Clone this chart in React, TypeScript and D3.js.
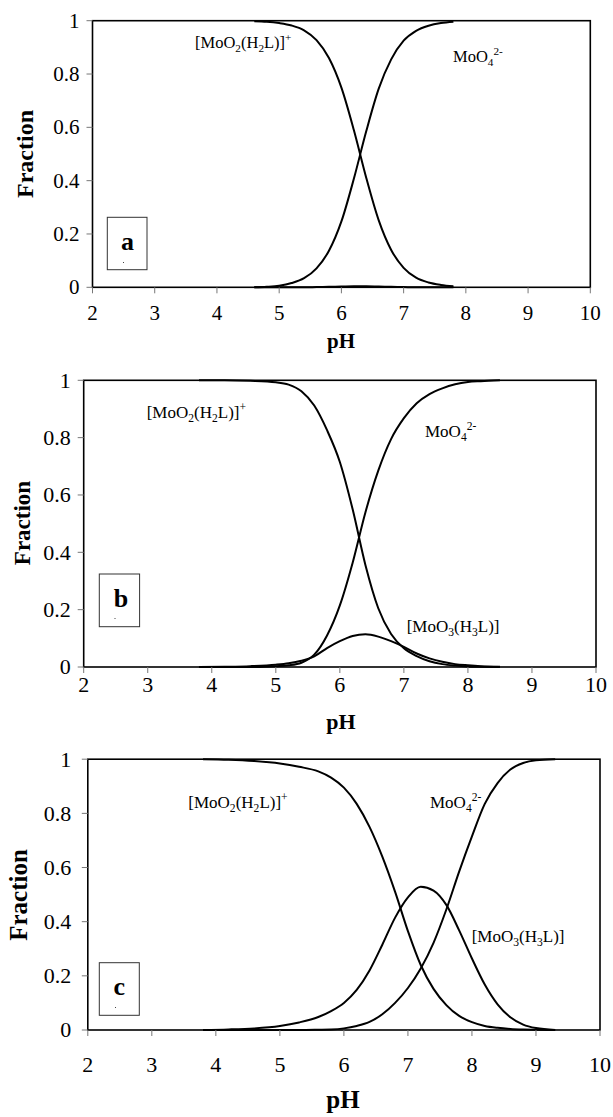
import React from 'react';
import * as d3 from 'd3';

const X_TICKS = [2, 3, 4, 5, 6, 7, 8, 9, 10];
const Y_TICKS = [0, 0.2, 0.4, 0.6, 0.8, 1];

// Panel a
const PH_A = [4.6, 4.8, 5.0, 5.2, 5.4, 5.6, 5.8, 6.0, 6.2, 6.4, 6.6, 6.8, 7.0, 7.2, 7.4, 7.6, 7.8];
const H2L_A = [0.998, 0.996, 0.991, 0.982, 0.964, 0.927, 0.86, 0.749, 0.59, 0.41, 0.251, 0.14, 0.073, 0.036, 0.018, 0.009, 0.004];
const MOO4_A = [0.0, 0.002, 0.006, 0.016, 0.034, 0.071, 0.137, 0.247, 0.407, 0.586, 0.745, 0.855, 0.925, 0.962, 0.981, 0.991, 0.996];
const MOO3_A = [0, 0, 0, 0, 0, 0.001, 0.002, 0.003, 0.004, 0.004, 0.003, 0.002, 0.001, 0, 0, 0, 0];

// Panel b
const PH_B = [3.8, 4.2, 4.6, 5.0, 5.2, 5.4, 5.6, 5.8, 6.0, 6.2, 6.4, 6.6, 6.8, 7.0, 7.2, 7.4, 7.6, 7.8, 8.0, 8.2, 8.5];
const H2L_B = [1.0, 1.0, 0.998, 0.993, 0.985, 0.962, 0.912, 0.826, 0.715, 0.55, 0.355, 0.205, 0.115, 0.065, 0.038, 0.02, 0.01, 0.005, 0.002, 0.001, 0.0];
const MOO3_B = [0.0, 0.001, 0.003, 0.008, 0.013, 0.022, 0.037, 0.066, 0.09, 0.108, 0.114, 0.106, 0.09, 0.07, 0.047, 0.03, 0.018, 0.01, 0.006, 0.003, 0.001];
const MOO4_B = [0.0, 0.0, 0.0, 0.003, 0.006, 0.015, 0.043, 0.11, 0.215, 0.364, 0.54, 0.685, 0.795, 0.868, 0.92, 0.952, 0.972, 0.986, 0.994, 0.997, 1.0];

// Panel c
const PH_C = [3.8, 4.2, 4.6, 5.0, 5.3, 5.6, 5.8, 6.0, 6.2, 6.4, 6.6, 6.8, 7.0, 7.2, 7.4, 7.6, 7.8, 8.0, 8.2, 8.4, 8.6, 8.8, 9.0, 9.3];
const H2L_C = [1.0, 0.998, 0.993, 0.984, 0.972, 0.955, 0.932, 0.895, 0.835, 0.75, 0.64, 0.51, 0.365, 0.24, 0.152, 0.092, 0.052, 0.029, 0.015, 0.008, 0.004, 0.002, 0.001, 0.0];
const MOO3_C = [0.0, 0.002, 0.006, 0.015, 0.028, 0.048, 0.07, 0.1, 0.148, 0.22, 0.315, 0.415, 0.49, 0.529, 0.515, 0.462, 0.368, 0.264, 0.168, 0.095, 0.047, 0.02, 0.007, 0.0];
const MOO4_C = [0.0, 0.0, 0.0, 0.0, 0.0, 0.001, 0.002, 0.006, 0.015, 0.03, 0.058, 0.1, 0.155, 0.227, 0.322, 0.445, 0.585, 0.715, 0.835, 0.912, 0.962, 0.986, 0.996, 1.0];

const SERIF = "'Liberation Serif', 'Times New Roman', Times, serif";

type Seg = { t: string; k?: 'sub' | 'sup' };

const LBL_H2L: Seg[] = [
  { t: '[MoO' }, { t: '2', k: 'sub' }, { t: '(H' }, { t: '2', k: 'sub' }, { t: 'L)]' }, { t: '+', k: 'sup' },
];
const LBL_MOO4: Seg[] = [{ t: 'MoO' }, { t: '4', k: 'sub' }, { t: '2-', k: 'sup' }];
const LBL_MOO3: Seg[] = [
  { t: '[MoO' }, { t: '3', k: 'sub' }, { t: '(H' }, { t: '3', k: 'sub' }, { t: 'L)]' },
];

function ChemLabel({ x, y, segs, size }: { x: number; y: number; segs: Seg[]; size: number }) {
  let cur = 0;
  return (
    <text x={x} y={y} fontSize={size} fontFamily={SERIF} fill="#000">
      {segs.map((s, i) => {
        const target = s.k === 'sub' ? size * 0.25 : s.k === 'sup' ? -size * 0.42 : 0;
        const dy = target - cur;
        cur = target;
        return (
          <tspan key={i} dy={dy} fontSize={s.k ? size * 0.68 : size}>
            {s.t}
          </tspan>
        );
      })}
    </text>
  );
}

type PanelProps = {
  left: number; right: number; top: number; bottom: number;
  ph: number[]; series: number[][];
  tickFont: number; xLabelBase: number; yLabelGap: number;
  fracX: number; fracY: number; fracFont: number;
  phX: number; phY: number; phFont: number;
  box: [number, number, number, number]; letter: string; letterX: number; letterY: number;
  dot: [number, number];
  labels: { x: number; y: number; segs: Seg[]; size: number }[];
};

function Panel(p: PanelProps) {
  const x = d3.scaleLinear().domain([2, 10]).range([p.left, p.right]);
  const y = d3.scaleLinear().domain([0, 1]).range([p.bottom, p.top]);
  const line = d3
    .line<[number, number]>()
    .x((d) => x(d[0]))
    .y((d) => y(d[1]))
    .curve(d3.curveMonotoneX);
  const fmt = d3.format('~g');
  return (
    <g fontFamily={SERIF}>
      {p.series.map((s, i) => (
        <path
          key={i}
          d={line(p.ph.map((v, j) => [v, s[j]] as [number, number])) || ''}
          fill="none"
          stroke="#000"
          strokeWidth={2}
        />
      ))}
      <rect
        x={p.left}
        y={p.top}
        width={p.right - p.left}
        height={p.bottom - p.top}
        fill="none"
        stroke="#000"
        strokeWidth={1.6}
      />
      {X_TICKS.map((t) => (
        <g key={'x' + t}>
          <line x1={x(t)} x2={x(t)} y1={p.bottom} y2={p.bottom + 6} stroke="#777" strokeWidth={1} />
          <text x={x(t)} y={p.xLabelBase} textAnchor="middle" fontSize={p.tickFont} fontFamily={SERIF}>
            {t}
          </text>
        </g>
      ))}
      {Y_TICKS.map((t) => (
        <g key={'y' + t}>
          <line x1={p.left - 6} x2={p.left} y1={y(t)} y2={y(t)} stroke="#777" strokeWidth={1} />
          <text
            x={p.left - p.yLabelGap}
            y={y(t) + p.tickFont * 0.34}
            textAnchor="end"
            fontSize={p.tickFont}
            fontFamily={SERIF}
          >
            {fmt(t)}
          </text>
        </g>
      ))}
      <text
        transform={`translate(${p.fracX},${p.fracY}) rotate(-90)`}
        textAnchor="middle"
        fontSize={p.fracFont}
        fontWeight="bold"
        fontFamily={SERIF}
      >
        Fraction
      </text>
      <text x={p.phX} y={p.phY} textAnchor="middle" fontSize={p.phFont} fontWeight="bold" fontFamily={SERIF}>
        pH
      </text>
      <rect
        x={p.box[0]}
        y={p.box[1]}
        width={p.box[2] - p.box[0]}
        height={p.box[3] - p.box[1]}
        fill="#fff"
        stroke="#333"
        strokeWidth={1}
      />
      <text x={p.letterX} y={p.letterY} textAnchor="middle" fontSize={26} fontWeight="bold" fontFamily={SERIF}>
        {p.letter}
      </text>
      <rect x={p.dot[0]} y={p.dot[1]} width={1} height={1} fill="#444" />
      {p.labels.map((l, i) => (
        <ChemLabel key={i} {...l} />
      ))}
    </g>
  );
}

export default function App() {
  return (
    <svg
      width={613}
      height={1117}
      viewBox="0 0 613 1117"
      style={{ position: 'absolute', left: 0, top: 0, background: '#fff' }}
      fontFamily={SERIF}
    >
      <rect x={0} y={0} width={613} height={1117} fill="#fff" />
      <Panel
        left={92.5} right={590.3} top={20.7} bottom={287.3}
        ph={PH_A} series={[H2L_A, MOO4_A, MOO3_A]}
        tickFont={21} xLabelBase={320} yLabelGap={13}
        fracX={33} fracY={154} fracFont={24}
        phX={341} phY={348} phFont={21}
        box={[107.3, 217.3, 147, 269.7]} letter="a" letterX={127.5} letterY={250}
        dot={[123, 262]}
        labels={[
          { x: 195, y: 48, segs: LBL_H2L, size: 16.5 },
          { x: 453, y: 62, segs: LBL_MOO4, size: 16.5 },
        ]}
      />
      <Panel
        left={83.7} right={596} top={380.3} bottom={667}
        ph={PH_B} series={[H2L_B, MOO4_B, MOO3_B]}
        tickFont={22} xLabelBase={692} yLabelGap={13}
        fracX={29.5} fracY={523} fracFont={23}
        phX={341} phY={729} phFont={22}
        box={[99.3, 574, 139.6, 626.7]} letter="b" letterX={121} letterY={606.5}
        dot={[114.5, 618]}
        labels={[
          { x: 146.7, y: 418, segs: LBL_H2L, size: 17 },
          { x: 425, y: 437, segs: LBL_MOO4, size: 17 },
          { x: 406.7, y: 632, segs: LBL_MOO3, size: 17 },
        ]}
      />
      <Panel
        left={87.8} right={600} top={759.2} bottom={1030}
        ph={PH_C} series={[H2L_C, MOO4_C, MOO3_C]}
        tickFont={22} xLabelBase={1072} yLabelGap={16.5}
        fracX={27} fracY={895} fracFont={25}
        phX={343} phY={1108} phFont={25}
        box={[99.3, 962.7, 139.3, 1015.3]} letter="c" letterX={119.3} letterY={995}
        dot={[115, 1007]}
        labels={[
          { x: 188.3, y: 808, segs: LBL_H2L, size: 17 },
          { x: 430, y: 808, segs: LBL_MOO4, size: 17 },
          { x: 471.7, y: 941.7, segs: LBL_MOO3, size: 17 },
        ]}
      />
    </svg>
  );
}
